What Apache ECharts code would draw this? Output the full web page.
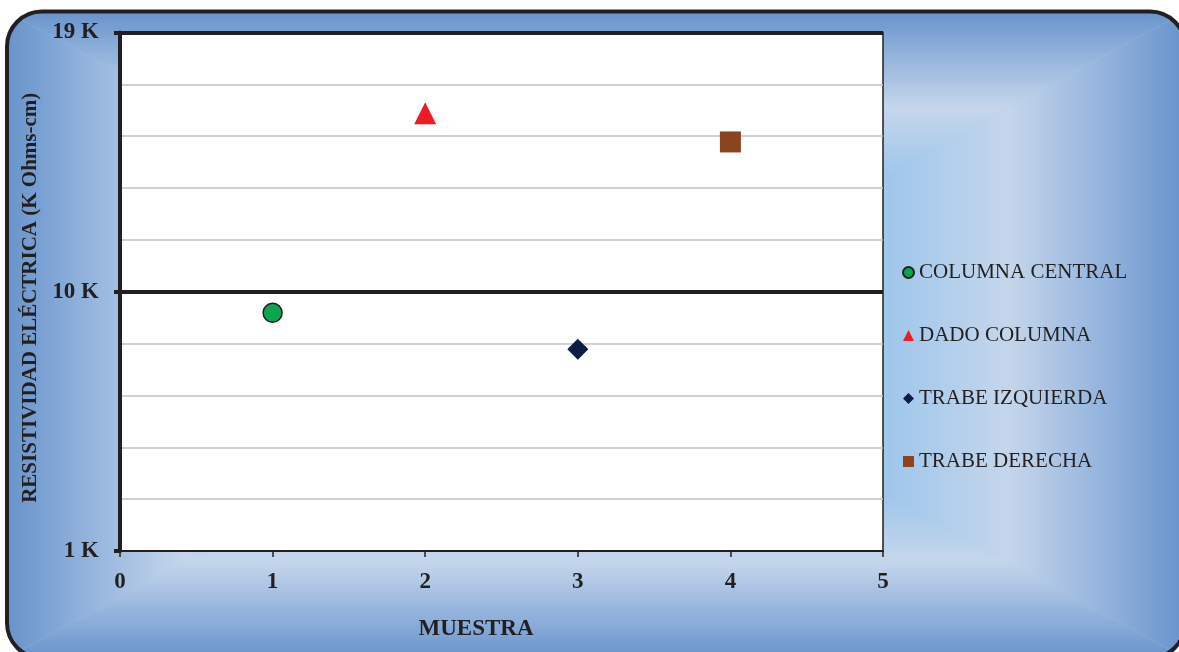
<!DOCTYPE html>
<html>
<head>
<meta charset="utf-8">
<style>
  html, body { margin: 0; padding: 0; background: #ffffff; }
  #chart { width: 1179px; height: 652px; }
</style>
<script src="https://cdn.jsdelivr.net/npm/echarts@6/dist/echarts.min.js"></script>
</head>
<body>
<div id="chart"></div>
<script>
// Sample positions along the structure and their measured resistivity (K Ohms-cm)
const muestras = [1, 2, 3, 4];
const resistividad = [9.27, 16.2, 8.0, 15.2];
const elementos = ['COLUMNA CENTRAL', 'DADO COLUMNA', 'TRABE IZQUIERDA', 'TRABE DERECHA'];

// Marker look for each element
const simbolos = ['circle', 'triangle', 'diamond', 'rect'];
const colores = ['#0aa64f', '#ed1c24', '#0b1d45', '#8c4320'];
const tamanos = [19, 22, 21, 21];

// Axis ranges and labelled ticks
const xTicks = [0, 1, 2, 3, 4, 5];
const yRango = [1, 19];
const yMayor = 9;     // labelled ticks: 1 K, 10 K, 19 K
const yMenor = 1.8;   // light grid lines

const ink = '#231f20';
const serif = '"Liberation Serif", "Times New Roman", serif';

const chart = echarts.init(document.getElementById('chart'), null, { renderer: 'canvas' });

// Panel frame with a rectangular-path gradient (light ring, darker edges)
const X0 = 7, Y0 = 11.5, X1 = 1185, Y1 = 658, R = 35;
const CX = (X0 + X1) / 2, CY = (Y0 + Y1) / 2;
const stops = [
  { offset: 0, color: '#6893cb' },
  { offset: 0.15, color: '#97b6de' },
  { offset: 0.3, color: '#c5d6eb' },
  { offset: 0.5, color: '#a0c7eb' },
  { offset: 1, color: '#98c3ea' }
];
function grad(x, y, x2, y2) {
  return { type: 'linear', x: x, y: y, x2: x2, y2: y2, global: true, colorStops: stops };
}
// white area between a square corner and the rounded edge of the panel
function corner(px, py, sx, sy) {
  const e = 8;
  const ccx = px + sx * R, ccy = py + sy * R;
  const pts = [[px - sx * e, py - sy * e], [ccx, py - sy * e], [ccx, py]];
  const n = 24;
  for (let k = 0; k <= n; k++) {
    const a = (Math.PI / 2) * k / n;
    pts.push([ccx - sx * R * Math.sin(a), ccy - sy * R * Math.cos(a)]);
  }
  pts.push([px - sx * e, ccy]);
  return { type: 'polygon', z: -5, silent: true, shape: { points: pts }, style: { fill: '#ffffff' } };
}
const fondo = [
  { type: 'rect', z: -10, silent: true, shape: { x: X0, y: Y0, width: X1 - X0, height: Y1 - Y0 }, style: { fill: '#a9c6e6' } },
  { type: 'polygon', z: -9, silent: true, shape: { points: [[X0, Y0], [X1, Y0], [CX, CY]] }, style: { fill: grad(0, Y0, 0, CY) } },
  { type: 'polygon', z: -9, silent: true, shape: { points: [[X0, Y1], [X1, Y1], [CX, CY]] }, style: { fill: grad(0, Y1, 0, CY) } },
  { type: 'polygon', z: -9, silent: true, shape: { points: [[X0, Y0], [X0, Y1], [CX, CY]] }, style: { fill: grad(X0, 0, CX, 0) } },
  { type: 'polygon', z: -9, silent: true, shape: { points: [[X1, Y0], [X1, Y1], [CX, CY]] }, style: { fill: grad(X1, 0, CX, 0) } },
  corner(X0, Y0, 1, 1),
  corner(X1, Y0, -1, 1),
  corner(X0, Y1, 1, -1),
  corner(X1, Y1, -1, -1),
  { type: 'rect', z: -4, silent: true, shape: { x: X0, y: Y0, width: X1 - X0, height: Y1 - Y0, r: R }, style: { fill: 'none', stroke: ink, lineWidth: 4 } }
];

const series = elementos.map((nombre, i) => ({
  name: nombre,
  type: 'scatter',
  xAxisIndex: 0,
  yAxisIndex: 0,
  symbol: simbolos[i],
  symbolSize: tamanos[i],
  itemStyle: i === 0
    ? { color: colores[i], borderColor: ink, borderWidth: 1.5, opacity: 1 }
    : { color: colores[i], opacity: 1 },
  z: 5,
  data: [[muestras[i], resistividad[i]]]
}));

chart.setOption({
  animation: false,
  backgroundColor: '#ffffff',
  graphic: fondo,
  grid: {
    left: 120, top: 32.5, right: 296, bottom: 101,
    show: true, backgroundColor: '#ffffff', borderColor: ink, borderWidth: 1.5
  },
  legend: {
    orient: 'vertical',
    left: 897, top: 257,
    itemWidth: 11, itemHeight: 11,
    itemGap: 42,
    textStyle: { fontFamily: serif, fontSize: 21, color: ink, lineHeight: 21 },
    data: elementos
  },
  xAxis: {
    type: 'value',
    min: xTicks[0], max: xTicks[xTicks.length - 1], interval: 1,
    name: 'MUESTRA',
    nameLocation: 'middle',
    nameGap: 67,
    nameTextStyle: { fontFamily: serif, fontSize: 23, fontWeight: 'bold', color: ink, padding: [0, 51, 0, 0] },
    axisLine: { show: true, onZero: false, lineStyle: { color: ink, width: 2 } },
    axisTick: { show: true, length: 6, lineStyle: { color: ink, width: 1.5 } },
    axisLabel: { fontFamily: serif, fontSize: 23, fontWeight: 'bold', color: ink, margin: 20 },
    splitLine: { show: false }
  },
  yAxis: [
    {
      type: 'value',
      min: yRango[0], max: yRango[1], interval: yMayor,
      z: 3,
      name: 'RESISTIVIDAD ELÉCTRICA (K Ohms-cm)',
      nameLocation: 'middle',
      nameGap: 72,
      nameTextStyle: { fontFamily: serif, fontSize: 21, fontWeight: 'bold', color: ink, padding: [0, 12, 0, 0] },
      axisLine: { show: true, onZero: false, lineStyle: { color: ink, width: 4 } },
      axisTick: { show: true, length: 6, lineStyle: { color: ink, width: 4 } },
      axisLabel: {
        fontFamily: serif, fontSize: 23, fontWeight: 'bold', color: ink, margin: 21,
        formatter: v => Math.round(v) + ' K'
      },
      splitLine: { show: true, showMinLine: false, showMaxLine: true, lineStyle: { color: ink, width: 4 } }
    },
    {
      type: 'value',
      min: yRango[0], max: yRango[1], interval: yMenor,
      z: 1,
      position: 'left',
      axisLine: { show: false },
      axisTick: { show: false },
      axisLabel: { show: false },
      splitLine: { show: true, showMinLine: false, lineStyle: { color: '#c0c0c0', width: 1.5 } }
    }
  ],
  series: series
});
</script>
</body>
</html>
